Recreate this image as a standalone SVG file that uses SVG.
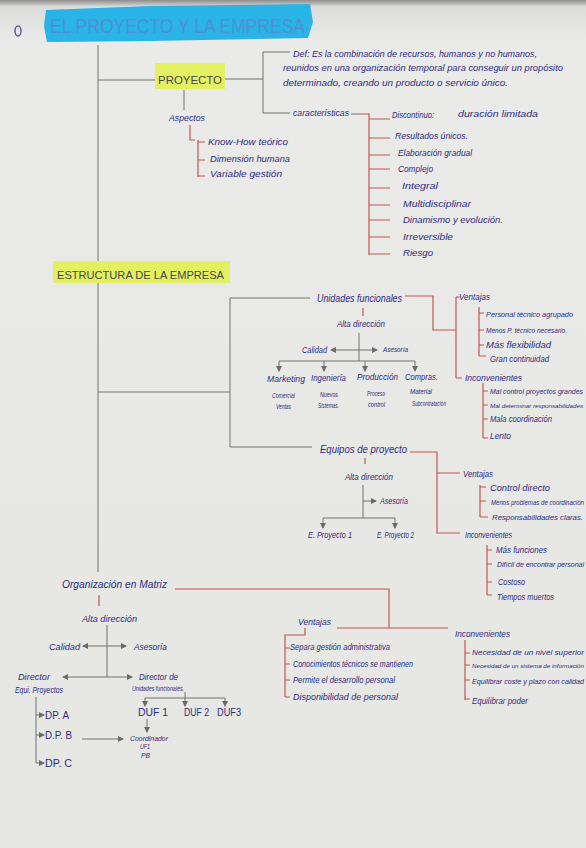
<svg xmlns="http://www.w3.org/2000/svg" width="586" height="848" viewBox="0 0 586 848">
<defs>
<linearGradient id="paper" x1="0" y1="0" x2="0" y2="1">
<stop offset="0" stop-color="#8d8e8c"/>
<stop offset="0.008" stop-color="#dcdcda"/>
<stop offset="0.05" stop-color="#eaeae8"/>
<stop offset="1" stop-color="#e6e6e3"/>
</linearGradient>
<marker id="ah" markerWidth="6" markerHeight="6" refX="5" refY="3" orient="auto" markerUnits="userSpaceOnUse">
<path d="M0,0 L6,3 L0,6 z" fill="#6a6c68"/>
</marker>
</defs>
<style>
text{font-family:"Liberation Sans","DejaVu Sans",sans-serif;fill:#2d2b80;font-style:italic}
.s{font-size:9px}
.m{font-size:10px}
.t{font-size:6.5px}
.cap{font-style:normal;fill:#474747;font-size:11px}
.title{font-style:normal;fill:#4d90d8;font-size:21px}
.g{stroke:#6f746f;stroke-width:1;fill:none}
.r{stroke:#c4574f;stroke-width:1.2;fill:none}
.ar{stroke:#6f746f;stroke-width:1;fill:none;marker-end:url(#ah)}
</style>
<rect x="0" y="0" width="586" height="848" fill="url(#paper)"/>

<g id="connectors">
<path class="g" d="M98,45 V572"/>
<path class="g" d="M98,80 H155"/>
<path class="g" d="M225,79 H263 M263,52 V113 M263,52 H290 M263,113 H290"/>
<path class="g" d="M351,114 H360"/>
<path class="r" d="M360,114 H369 V255 M369,119 H390 M369,138 H390 M369,155 H390 M369,169 H390 M369,188 H390 M369,205 H390 M369,220 H390 M369,237 H390 M369,254 H390"/>
<path class="g" d="M184,90 V110"/>
<path class="r" d="M190,125 V140 H195 M198,140 V177 M198,142 H205 M198,160 H205 M198,176 H205"/>
<path class="g" d="M98,392 H230 M230,298 V447 M230,298 H310 M230,447 H312"/>
<path class="r" d="M405,296 H433 V330 H456 M456,297 V378 M456,297 H460 M456,378 H462"/>
<path class="r" d="M479,307 V356 M479,313 H484 M479,330 H484 M479,345 H484 M479,356 H486"/>
<path class="r" d="M483,383 V438 M483,391 H488 M483,405 H488 M483,419 H488 M483,438 H488"/>
<path class="r" d="M363,308 V316"/>
<path class="g" d="M359,333 V361 M279,361 H415"/>
<path class="ar" d="M359,350 H331"/>
<path class="ar" d="M359,350 H377"/>
<path class="ar" d="M279,361 V371"/>
<path class="ar" d="M324,361 V371"/>
<path class="ar" d="M365,361 V371"/>
<path class="ar" d="M415,361 V371"/>
<path class="r" d="M410,452 H437 V533 H460 M437,473 H460"/>
<path class="r" d="M480,485 V517 M480,487 H486 M480,501 H486 M480,517 H488"/>
<path class="r" d="M487,545 V595 M487,550 H492 M487,564 H492 M487,582 H492 M487,595 H492"/>
<path class="r" d="M365,458 V464"/>
<path class="g" d="M363,485 V518 M323,518 H395"/>
<path class="ar" d="M363,501 H376"/>
<path class="ar" d="M323,518 V528"/>
<path class="ar" d="M395,518 V528"/>
<path class="r" d="M175,589 H389 V628 M337,628 H448"/>
<path class="r" d="M305,628 V635 H285 V697 M285,648 H290 M285,664 H290 M285,680 H290 M285,697 H290"/>
<path class="r" d="M465,640 V700 M465,653 H470 M465,665 H470 M465,680 H470 M465,699 H470"/>
<path class="r" d="M99,595 V606"/>
<path class="g" d="M107,625 V677"/>
<path class="ar" d="M107,646 H83"/>
<path class="ar" d="M107,646 H126"/>
<path class="ar" d="M107,677 H63"/>
<path class="ar" d="M107,677 H132"/>
<path class="g" d="M185,692 V698 M145,698 H225"/>
<path class="ar" d="M145,698 V706"/>
<path class="ar" d="M185,698 V706"/>
<path class="ar" d="M225,698 V706"/>
<path class="ar" d="M147,719 V732"/>
<path class="g" d="M36,697 V763"/>
<path class="ar" d="M36,715 H44"/>
<path class="ar" d="M36,735 H44"/>
<path class="ar" d="M36,763 H44"/>
<path class="ar" d="M82,739 H123"/>
</g>

<g id="title">
<path d="M46,10 L150,6 L310,4 L313,22 L308,38 L150,41 L47,42 L44,26 z" fill="#29b3e6"/>
<text class="title" x="50" y="33" textLength="255" lengthAdjust="spacingAndGlyphs">EL PROYECTO Y LA EMPRESA</text>
</g>
<g id="bullet"><ellipse cx="18" cy="31" rx="3" ry="5" fill="none" stroke="#6a5aa0" stroke-width="1.5"/></g>

<g id="proyecto">
<rect x="155" y="63" width="70" height="26" fill="#e3f062"/>
<text class="cap" x="158" y="84" textLength="64" lengthAdjust="spacingAndGlyphs">PROYECTO</text>
</g>
<g id="def">
<text class="s" x="293" y="57" textLength="244" lengthAdjust="spacingAndGlyphs">Def: Es la combinación de recursos, humanos y no humanos,</text>
<text class="s" x="283" y="71" textLength="280" lengthAdjust="spacingAndGlyphs">reunidos en una organización temporal para conseguir un propósito</text>
<text class="s" x="283" y="86" textLength="225" lengthAdjust="spacingAndGlyphs">determinado, creando un producto o servicio único.</text>
</g>
<g id="caracteristicas"><text class="s" x="293" y="116" textLength="56" lengthAdjust="spacingAndGlyphs">características</text></g>
<g id="c1"><text class="s" x="392" y="118" textLength="42" lengthAdjust="spacingAndGlyphs">Discontinuo:</text><text class="s" x="458" y="117" textLength="80" lengthAdjust="spacingAndGlyphs">duración limitada</text></g>
<g id="c2"><text class="s" x="395" y="139" textLength="73" lengthAdjust="spacingAndGlyphs">Resultados únicos.</text></g>
<g id="c3"><text class="s" x="398" y="156" textLength="74" lengthAdjust="spacingAndGlyphs">Elaboración gradual</text></g>
<g id="c4"><text class="s" x="398" y="172" textLength="35" lengthAdjust="spacingAndGlyphs">Complejo</text></g>
<g id="c5"><text class="s" x="402" y="189" textLength="36" lengthAdjust="spacingAndGlyphs">Integral</text></g>
<g id="c6"><text class="s" x="403" y="207" textLength="68" lengthAdjust="spacingAndGlyphs">Multidisciplinar</text></g>
<g id="c7"><text class="s" x="403" y="223" textLength="100" lengthAdjust="spacingAndGlyphs">Dinamismo y evolución.</text></g>
<g id="c8"><text class="s" x="403" y="240" textLength="50" lengthAdjust="spacingAndGlyphs">Irreversible</text></g>
<g id="c9"><text class="s" x="403" y="256" textLength="30" lengthAdjust="spacingAndGlyphs">Riesgo</text></g>

<g id="aspectos"><text class="s" x="169" y="121" textLength="36" lengthAdjust="spacingAndGlyphs">Aspectos</text></g>
<g id="a1"><text class="s" x="208" y="145" textLength="80" lengthAdjust="spacingAndGlyphs">Know-How teórico</text></g>
<g id="a2"><text class="s" x="210" y="162" textLength="80" lengthAdjust="spacingAndGlyphs">Dimensión humana</text></g>
<g id="a3"><text class="s" x="210" y="177" textLength="72" lengthAdjust="spacingAndGlyphs">Variable gestión</text></g>

<g id="estructura">
<rect x="53" y="261" width="177" height="22" fill="#e3f062"/>
<text class="cap" x="57" y="279" textLength="167" lengthAdjust="spacingAndGlyphs">ESTRUCTURA DE LA EMPRESA</text>
</g>

<g id="unidades"><text class="m" x="317" y="302" textLength="85" lengthAdjust="spacingAndGlyphs">Unidades funcionales</text></g>
<g id="uf-ventajas"><text class="s" x="459" y="300" textLength="31" lengthAdjust="spacingAndGlyphs">Ventajas</text></g>
<g id="uv1"><text x="486" y="317" style="font-size:8px" textLength="87" lengthAdjust="spacingAndGlyphs">Personal técnico agrupado</text></g>
<g id="uv2"><text x="486" y="333" style="font-size:7.5px" textLength="81" lengthAdjust="spacingAndGlyphs">Menos P. técnico necesario.</text></g>
<g id="uv3"><text class="s" x="486" y="348" textLength="65" lengthAdjust="spacingAndGlyphs">Más flexibilidad</text></g>
<g id="uv4"><text class="s" x="490" y="362" textLength="59" lengthAdjust="spacingAndGlyphs">Gran continuidad</text></g>
<g id="uf-inconv"><text class="s" x="465" y="381" textLength="57" lengthAdjust="spacingAndGlyphs">Inconvenientes</text></g>
<g id="ui1"><text x="490" y="394" style="font-size:6.8px" textLength="93" lengthAdjust="spacingAndGlyphs">Mal control proyectos grandes</text></g>
<g id="ui2"><text x="490" y="408" style="font-size:6.2px" textLength="93" lengthAdjust="spacingAndGlyphs">Mal determinar responsabilidades</text></g>
<g id="ui3"><text class="s" x="490" y="422" textLength="62" lengthAdjust="spacingAndGlyphs">Mala coordinación</text></g>
<g id="ui4"><text class="s" x="490" y="439" textLength="21" lengthAdjust="spacingAndGlyphs">Lento</text></g>

<g id="uf-alta"><text class="s" x="337" y="327" textLength="48" lengthAdjust="spacingAndGlyphs">Alta dirección</text></g>
<g id="uf-calidad"><text class="s" x="302" y="353" textLength="25" lengthAdjust="spacingAndGlyphs">Calidad</text></g>
<g id="uf-asesoria"><text class="t" x="383" y="352" textLength="25" lengthAdjust="spacingAndGlyphs">Asesoría</text></g>
<g id="marketing"><text class="s" x="267" y="382" textLength="38" lengthAdjust="spacingAndGlyphs">Marketing</text>
<text class="t" x="272" y="398" textLength="23" lengthAdjust="spacingAndGlyphs">Comercial</text><text class="t" x="276" y="409" textLength="15" lengthAdjust="spacingAndGlyphs">Ventas</text></g>
<g id="ingenieria"><text class="s" x="311" y="381" textLength="35" lengthAdjust="spacingAndGlyphs">Ingeniería</text>
<text class="t" x="320" y="397" textLength="18" lengthAdjust="spacingAndGlyphs">Nuevos</text><text class="t" x="318" y="408" textLength="21" lengthAdjust="spacingAndGlyphs">Sistemas.</text></g>
<g id="produccion"><text class="s" x="357" y="380" textLength="41" lengthAdjust="spacingAndGlyphs">Producción</text>
<text class="t" x="367" y="396" textLength="18" lengthAdjust="spacingAndGlyphs">Proceso</text><text class="t" x="368" y="407" textLength="17" lengthAdjust="spacingAndGlyphs">control</text></g>
<g id="compras"><text class="s" x="405" y="380" textLength="33" lengthAdjust="spacingAndGlyphs">Compras.</text>
<text class="t" x="410" y="394" textLength="22" lengthAdjust="spacingAndGlyphs">Material</text><text class="t" x="412" y="406" textLength="34" lengthAdjust="spacingAndGlyphs">Subcontratación</text></g>

<g id="equipos"><text class="m" x="320" y="453" textLength="87" lengthAdjust="spacingAndGlyphs">Equipos de proyecto</text></g>
<g id="eq-ventajas"><text class="s" x="463" y="477" textLength="30" lengthAdjust="spacingAndGlyphs">Ventajas</text></g>
<g id="ev1"><text class="s" x="490" y="491" textLength="60" lengthAdjust="spacingAndGlyphs">Control directo</text></g>
<g id="ev2"><text x="491" y="505" style="font-size:6.3px" textLength="93" lengthAdjust="spacingAndGlyphs">Menos problemas de coordinación</text></g>
<g id="ev3"><text x="492" y="520" style="font-size:7.5px" textLength="91" lengthAdjust="spacingAndGlyphs">Responsabilidades claras.</text></g>
<g id="eq-inconv"><text class="s" x="465" y="538" textLength="47" lengthAdjust="spacingAndGlyphs">Inconvenientes</text></g>
<g id="ei1"><text class="s" x="496" y="553" textLength="51" lengthAdjust="spacingAndGlyphs">Más funciones</text></g>
<g id="ei2"><text x="497" y="567" style="font-size:6.3px" textLength="87" lengthAdjust="spacingAndGlyphs">Difícil de encontrar personal</text></g>
<g id="ei3"><text class="s" x="498" y="585" textLength="27" lengthAdjust="spacingAndGlyphs">Costoso</text></g>
<g id="ei4"><text class="s" x="497" y="600" textLength="57" lengthAdjust="spacingAndGlyphs">Tiempos muertos</text></g>
<g id="eq-alta"><text class="s" x="345" y="480" textLength="48" lengthAdjust="spacingAndGlyphs">Alta dirección</text></g>
<g id="eq-asesoria"><text class="s" x="380" y="504" textLength="28" lengthAdjust="spacingAndGlyphs">Asesoría</text></g>
<g id="ep1"><text class="s" x="308" y="538" textLength="44" lengthAdjust="spacingAndGlyphs">E. Proyecto 1</text></g>
<g id="ep2"><text class="s" x="377" y="538" textLength="37" lengthAdjust="spacingAndGlyphs">E. Proyecto 2</text></g>

<g id="matriz"><text class="m" x="62" y="588" textLength="105" lengthAdjust="spacingAndGlyphs">Organización en Matriz</text></g>
<g id="mx-ventajas"><text class="s" x="298" y="625" textLength="33" lengthAdjust="spacingAndGlyphs">Ventajas</text></g>
<g id="mv1"><text class="s" x="290" y="650" textLength="100" lengthAdjust="spacingAndGlyphs">Separa gestión administrativa</text></g>
<g id="mv2"><text class="s" x="293" y="667" textLength="120" lengthAdjust="spacingAndGlyphs">Conocimientos técnicos se mantienen</text></g>
<g id="mv3"><text class="s" x="293" y="683" textLength="102" lengthAdjust="spacingAndGlyphs">Permite el desarrollo personal</text></g>
<g id="mv4"><text class="s" x="293" y="700" textLength="105" lengthAdjust="spacingAndGlyphs">Disponibilidad de personal</text></g>
<g id="mx-inconv"><text class="s" x="455" y="637" textLength="55" lengthAdjust="spacingAndGlyphs">Inconvenientes</text></g>
<g id="mi1"><text x="472" y="655" style="font-size:7.6px" textLength="112" lengthAdjust="spacingAndGlyphs">Necesidad de un nivel superior</text></g>
<g id="mi2"><text x="472" y="668" style="font-size:6.2px" textLength="112" lengthAdjust="spacingAndGlyphs">Necesidad de un sistema de información</text></g>
<g id="mi3"><text x="472" y="684" style="font-size:6.5px" textLength="112" lengthAdjust="spacingAndGlyphs">Equilibrar coste y plazo con calidad</text></g>
<g id="mi4"><text class="s" x="472" y="704" textLength="56" lengthAdjust="spacingAndGlyphs">Equilibrar poder</text></g>

<g id="mx-alta"><text class="s" x="82" y="622" textLength="55" lengthAdjust="spacingAndGlyphs">Alta dirección</text></g>
<g id="mx-calidad"><text class="s" x="49" y="650" textLength="31" lengthAdjust="spacingAndGlyphs">Calidad</text></g>
<g id="mx-asesoria"><text class="s" x="134" y="650" textLength="33" lengthAdjust="spacingAndGlyphs">Asesoría</text></g>
<g id="mx-dir-ep"><text class="s" x="18" y="680" textLength="32" lengthAdjust="spacingAndGlyphs">Director</text><text class="s" x="15" y="693" textLength="48" lengthAdjust="spacingAndGlyphs">Equi. Proyectos</text></g>
<g id="mx-dir-uf"><text class="s" x="139" y="680" textLength="39" lengthAdjust="spacingAndGlyphs">Director de</text><text class="t" x="132" y="691" textLength="52" lengthAdjust="spacingAndGlyphs">Unidades funcionales.</text></g>
<g id="duf1"><text class="m" x="138" y="716" textLength="30" lengthAdjust="spacingAndGlyphs" style="font-style:normal">DUF 1</text></g>
<g id="duf2"><text class="m" x="184" y="716" textLength="25" lengthAdjust="spacingAndGlyphs" style="font-style:normal">DUF 2</text></g>
<g id="duf3"><text class="m" x="217" y="716" textLength="24" lengthAdjust="spacingAndGlyphs" style="font-style:normal">DUF3</text></g>
<g id="coord"><text class="t" x="130" y="741" textLength="38" lengthAdjust="spacingAndGlyphs">Coordinador</text><text class="t" x="140" y="749" textLength="10" lengthAdjust="spacingAndGlyphs">UF1</text><text class="t" x="141" y="758" textLength="9" lengthAdjust="spacingAndGlyphs">PB</text></g>
<g id="dpa"><text class="m" x="45" y="719" textLength="24" lengthAdjust="spacingAndGlyphs" style="font-style:normal">DP. A</text></g>
<g id="dpb"><text class="m" x="45" y="739" textLength="27" lengthAdjust="spacingAndGlyphs" style="font-style:normal">D.P. B</text></g>
<g id="dpc"><text class="m" x="45" y="767" textLength="27" lengthAdjust="spacingAndGlyphs" style="font-style:normal">DP. C</text></g>
</svg>
